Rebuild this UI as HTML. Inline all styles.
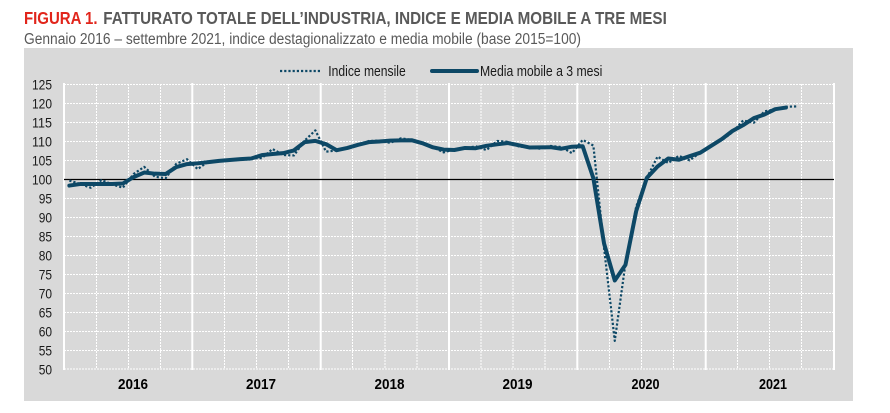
<!DOCTYPE html>
<html><head><meta charset="utf-8"><style>
html,body{margin:0;padding:0;background:#fff;}
svg{display:block;}
text{font-family:"Liberation Sans",Arial,sans-serif;}
</style></head><body>
<svg width="890" height="413" viewBox="0 0 890 413" xmlns="http://www.w3.org/2000/svg">
<rect x="0" y="0" width="890" height="413" fill="#fff"/>
<text x="24" y="24" font-size="17.5" font-weight="bold" fill="#e1251b" textLength="73.5" lengthAdjust="spacingAndGlyphs">FIGURA 1.</text>
<text x="103.3" y="24" font-size="17.5" font-weight="bold" fill="#595959" textLength="563.5" lengthAdjust="spacingAndGlyphs">FATTURATO TOTALE DELL’INDUSTRIA, INDICE E MEDIA MOBILE A TRE MESI</text>
<text x="24" y="44" font-size="15.5" fill="#595959" textLength="557" lengthAdjust="spacingAndGlyphs">Gennaio 2016 – settembre 2021, indice destagionalizzato e media mobile (base 2015=100)</text>
<rect x="24" y="48" width="829" height="353" fill="#d9d9d9"/>
<!-- horizontal grid -->
<g stroke="#fff" stroke-width="1" stroke-dasharray="2,1">
<line x1="64" x2="834" y1="84.5" y2="84.5"/><line x1="64" x2="834" y1="103.5" y2="103.5"/><line x1="64" x2="834" y1="122.5" y2="122.5"/><line x1="64" x2="834" y1="141.5" y2="141.5"/><line x1="64" x2="834" y1="160.5" y2="160.5"/><line x1="64" x2="834" y1="198.5" y2="198.5"/><line x1="64" x2="834" y1="217.5" y2="217.5"/><line x1="64" x2="834" y1="236.5" y2="236.5"/><line x1="64" x2="834" y1="255.5" y2="255.5"/><line x1="64" x2="834" y1="274.5" y2="274.5"/><line x1="64" x2="834" y1="293.5" y2="293.5"/><line x1="64" x2="834" y1="312.5" y2="312.5"/><line x1="64" x2="834" y1="331.5" y2="331.5"/><line x1="64" x2="834" y1="350.5" y2="350.5"/><line x1="64" x2="834" y1="369" y2="369"/>
</g>
<!-- quarter grid -->
<g stroke="#fff" stroke-width="1" stroke-dasharray="2,1">
<line x1="96.5" x2="96.5" y1="84" y2="369"/><line x1="128.5" x2="128.5" y1="84" y2="369"/><line x1="160.5" x2="160.5" y1="84" y2="369"/>
<line x1="224.5" x2="224.5" y1="84" y2="369"/><line x1="256.5" x2="256.5" y1="84" y2="369"/><line x1="288.5" x2="288.5" y1="84" y2="369"/>
<line x1="352.5" x2="352.5" y1="84" y2="369"/><line x1="385" x2="385" y1="84" y2="369"/><line x1="417" x2="417" y1="84" y2="369"/>
<line x1="481" x2="481" y1="84" y2="369"/><line x1="513" x2="513" y1="84" y2="369"/><line x1="545" x2="545" y1="84" y2="369"/>
<line x1="609.5" x2="609.5" y1="84" y2="369"/><line x1="641.5" x2="641.5" y1="84" y2="369"/><line x1="673.5" x2="673.5" y1="84" y2="369"/>
<line x1="737.5" x2="737.5" y1="84" y2="369"/><line x1="769.5" x2="769.5" y1="84" y2="369"/><line x1="801.5" x2="801.5" y1="84" y2="369"/>
</g>
<!-- year lines -->
<g stroke="#fff" stroke-width="2">
<line x1="64" x2="64" y1="83" y2="370"/><line x1="192.3" x2="192.3" y1="83" y2="370"/><line x1="320.7" x2="320.7" y1="83" y2="370"/><line x1="449" x2="449" y1="83" y2="370"/><line x1="577.3" x2="577.3" y1="83" y2="370"/><line x1="705.7" x2="705.7" y1="83" y2="370"/><line x1="834" x2="834" y1="83" y2="370"/>
</g>
<line x1="64" x2="834" y1="179.5" y2="179.5" stroke="#000" stroke-width="1.2"/>
<!-- y labels -->
<g font-size="14" fill="#1a1a1a" text-anchor="end">
<text x="52" y="89.3" textLength="20" lengthAdjust="spacingAndGlyphs">125</text>
<text x="52" y="108.3" textLength="20" lengthAdjust="spacingAndGlyphs">120</text>
<text x="52" y="127.3" textLength="20" lengthAdjust="spacingAndGlyphs">115</text>
<text x="52" y="146.3" textLength="20" lengthAdjust="spacingAndGlyphs">110</text>
<text x="52" y="165.3" textLength="20" lengthAdjust="spacingAndGlyphs">105</text>
<text x="52" y="184.3" textLength="20" lengthAdjust="spacingAndGlyphs">100</text>
<text x="52" y="203.3" textLength="13.3" lengthAdjust="spacingAndGlyphs">95</text>
<text x="52" y="222.3" textLength="13.3" lengthAdjust="spacingAndGlyphs">90</text>
<text x="52" y="241.3" textLength="13.3" lengthAdjust="spacingAndGlyphs">85</text>
<text x="52" y="260.3" textLength="13.3" lengthAdjust="spacingAndGlyphs">80</text>
<text x="52" y="279.3" textLength="13.3" lengthAdjust="spacingAndGlyphs">75</text>
<text x="52" y="298.3" textLength="13.3" lengthAdjust="spacingAndGlyphs">70</text>
<text x="52" y="317.3" textLength="13.3" lengthAdjust="spacingAndGlyphs">65</text>
<text x="52" y="336.3" textLength="13.3" lengthAdjust="spacingAndGlyphs">60</text>
<text x="52" y="355.3" textLength="13.3" lengthAdjust="spacingAndGlyphs">55</text>
<text x="52" y="374.3" textLength="13.3" lengthAdjust="spacingAndGlyphs">50</text>
</g>
<!-- x labels -->
<g font-size="15" font-weight="bold" fill="#000" text-anchor="middle">
<text x="133" y="389" textLength="30" lengthAdjust="spacingAndGlyphs">2016</text>
<text x="261" y="389" textLength="30" lengthAdjust="spacingAndGlyphs">2017</text>
<text x="389.5" y="389" textLength="30" lengthAdjust="spacingAndGlyphs">2018</text>
<text x="517.5" y="389" textLength="30" lengthAdjust="spacingAndGlyphs">2019</text>
<text x="645.5" y="389" textLength="28" lengthAdjust="spacingAndGlyphs">2020</text>
<text x="773" y="389" textLength="28" lengthAdjust="spacingAndGlyphs">2021</text>
</g>
<!-- legend -->
<line x1="280" x2="322" y1="71" y2="71" stroke="#0d4866" stroke-width="2.2" stroke-dasharray="2.2,2"/>
<text x="328.3" y="76" font-size="15" fill="#1a1a1a" textLength="77.4" lengthAdjust="spacingAndGlyphs">Indice mensile</text>
<line x1="432" x2="477" y1="71" y2="71" stroke="#0d4866" stroke-width="4" stroke-linecap="round"/>
<text x="480" y="76" font-size="15" fill="#1a1a1a" textLength="122.3" lengthAdjust="spacingAndGlyphs">Media mobile a 3 mesi</text>
<!-- dotted monthly index -->
<polyline fill="none" stroke="#0d4866" stroke-width="2.2" stroke-dasharray="2.2,2" stroke-linejoin="round" points="
69.35,180.52 80.04,183.94 90.74,187.74 101.43,180.14 112.13,184.32 122.82,187.74 133.52,174.06 144.21,166.84 154.91,176.72 165.60,178.24 176.29,163.8 186.99,159.24
197.68,169.12 208.38,161.52 219.07,161.14 229.77,160 240.46,158.86 251.16,158.48 261.85,158.1 272.54,148.98 283.24,155.06 293.93,155.44 304.63,140.62 315.32,130.36
326.02,151.64 336.71,150.5 347.41,148.6 358.10,144.8 368.79,141 379.49,140.62 390.18,142.9 400.88,138.34 411.57,139.86 422.27,142.52 432.96,147.08 443.65,152.4
454.35,149.36 465.04,148.22 475.74,146.32 486.43,150.12 497.13,141 507.82,141.76 518.52,146.32 529.21,147.46 539.90,148.6 550.60,145.94 561.29,147.08 571.99,153.16
582.68,139.86 593.38,145.56 604.07,248.16 614.77,340.88 625.46,263.36 636.15,206.74 646.85,177.86 657.54,156.58 668.24,163.04 678.93,155.82 689.63,160.38 700.32,152.4
711.01,145.18 721.71,140.24 732.40,132.26 743.10,120.48 753.79,122.76 764.49,111.36 775.18,109.46 785.88,106.8 796.57,106.42"/>
<!-- 3-month moving average -->
<polyline fill="none" stroke="#0d4866" stroke-width="4" stroke-linejoin="round" stroke-linecap="round" points="
69.35,185.57 80.04,184.05 90.74,183.94 101.43,184.05 112.13,184.05 122.82,183.56 133.52,177.1 144.21,172.54 154.91,173.68 165.60,174.06 176.29,167.11 186.99,164.07
197.68,163.31 208.38,162.09 219.07,160.87 229.77,160 240.46,159.13 251.16,158.48 261.85,155.17 272.54,154.03 283.24,153.16 293.93,150.39 304.63,142.14 315.32,140.89
326.02,144.15 336.71,150.23 347.41,147.95 358.10,144.8 368.79,142.14 379.49,141.49 390.18,140.62 400.88,140.35 411.57,140.24 422.27,143.17 432.96,147.35 443.65,149.63
454.35,150.01 465.04,147.95 475.74,148.22 486.43,145.83 497.13,144.31 507.82,143.01 518.52,145.18 529.21,147.46 539.90,147.35 550.60,147.19 561.29,148.71 571.99,146.7
582.68,146.21 593.38,178.24 604.07,243.6 614.77,280.46 625.46,264.88 636.15,211.3 646.85,177.86 657.54,166.46 668.24,158.48 678.93,159.73 689.63,156.2 700.32,152.67
711.01,145.94 721.71,139.21 732.40,131.01 743.10,125.15 753.79,118.2 764.49,114.51 775.18,109.19 785.88,107.56"/>
</svg>
</body></html>
